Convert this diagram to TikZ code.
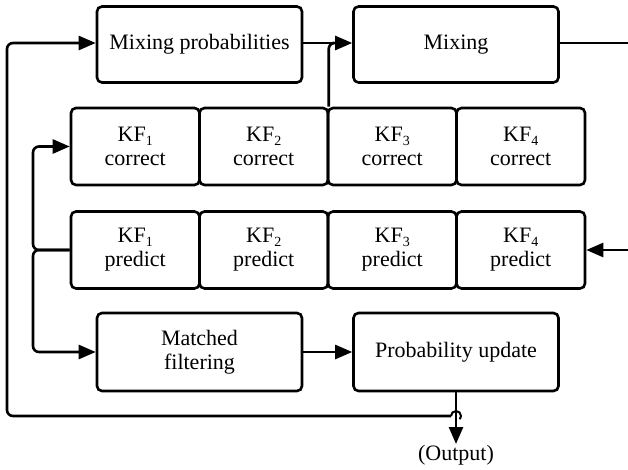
\documentclass[tikz,border=0pt]{standalone}
\usepackage{fontspec}
\setmainfont{Liberation Serif}
\usetikzlibrary{arrows.meta}
\newcommand{\kfsub}[1]{\raisebox{-0.4ex}{\fontsize{14}{14}\selectfont #1}}
\begin{document}
\begin{tikzpicture}[x=1pt,y=-1pt,
  line width=2.6pt,
  box/.style={draw, rounded corners=5pt, inner sep=0pt, align=center,
    font=\fontsize{22}{24}\selectfont},
  wide/.style={box, minimum width=205pt, minimum height=76pt},
  kf/.style={box, minimum width=128.5pt, minimum height=77pt},
  arr/.style={-{Triangle[length=17pt,width=14pt]}},
  wire/.style={rounded corners=6pt}]
\useasboundingbox (0,0) rectangle (628,470);
% top row
\node[wide] (mixprob) at (199.5,44.5) {Mixing probabilities};
\node[wide] (mixing) at (456,44.5) {Mixing};
% KF correct row
\node[kf] (kfc1) at (135.25,146.5) {KF\kfsub{1}\\correct};
\node[kf] (kfc2) at (263.75,146.5) {KF\kfsub{2}\\correct};
\node[kf] (kfc3) at (392.25,146.5) {KF\kfsub{3}\\correct};
\node[kf] (kfc4) at (520.75,146.5) {KF\kfsub{4}\\correct};
% KF predict row
\node[kf] (kfp1) at (135.25,250) {KF\kfsub{1}\\predict};
\node[kf] (kfp2) at (263.75,250) {KF\kfsub{2}\\predict};
\node[kf] (kfp3) at (392.25,250) {KF\kfsub{3}\\predict};
\node[kf] (kfp4) at (520.75,250) {KF\kfsub{4}\\predict};
% bottom row
\node[wide, minimum height=78pt] (matched) at (199.5,352) {Matched\\filtering};
\node[wide, minimum height=78pt] (probupd) at (456,352) {Probability update};
\node[font=\fontsize{22}{24}\selectfont] (output) at (456,455) {(Output)};
% coordinates
\coordinate (rout) at (628,43);
\coordinate (rin) at (628,250);
\coordinate (lj) at (33,250);
\coordinate (fb) at (451,416);
\coordinate (fl) at (7,416);
\coordinate (tip) at (456,444);
\coordinate (up) at ([xshift=2pt]kfc3.north west);
% connectors
\draw[arr] (mixprob.east |- 0,43) -- (mixing.west |- 0,43);
\draw[wire] (up) -- (up |- 0,43) -- ([xshift=4pt]up |- 0,43);
\draw (mixing.east |- 0,43) -- (rout);
\draw[arr] (rin) -- (kfp4.east);
\draw[wire,arr] (kfp1.west) -- (lj) |- (kfc1.west);
\draw[wire,arr] (kfp1.west) -- (lj) |- (matched.west);
\draw[arr] (matched.east) -- (probupd.west);
\draw[arr] (probupd.south) -- (tip);
\draw[wire,arr] (fb) -- (fl) |- (mixprob.west |- 0,43);
\draw[line width=2pt] (fb) arc[start angle=180, end angle=-40, radius=5pt];
\end{tikzpicture}
\end{document}
